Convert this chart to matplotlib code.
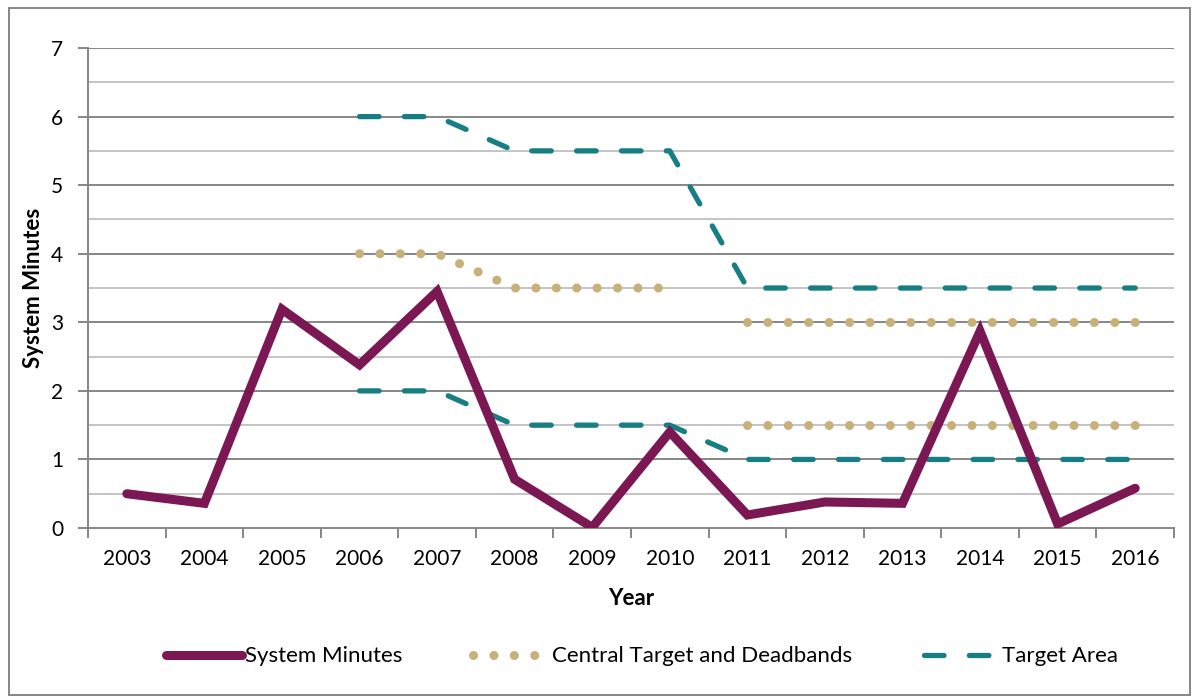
import numpy as np
import matplotlib.pyplot as plt
from matplotlib.patches import Rectangle

plt.rcParams['font.family'] = ['Lato', 'DejaVu Sans']

years = ['2003', '2004', '2005', '2006', '2007', '2008', '2009', '2010',
         '2011', '2012', '2013', '2014', '2015', '2016']
nan = np.nan
system_minutes = [0.50, 0.36, 3.19, 2.38, 3.45, 0.71, 0.01, 1.40,
                  0.19, 0.38, 0.36, 2.87, 0.06, 0.58]
central_target = [nan, nan, nan, 4.0, 4.0, 3.5, 3.5, 3.5,
                  nan, nan, nan, nan, nan, nan]
upper_deadband = [nan, nan, nan, nan, nan, nan, nan, nan,
                  3.0, 3.0, 3.0, 3.0, 3.0, 3.0]
lower_deadband = [nan, nan, nan, nan, nan, nan, nan, nan,
                  1.5, 1.5, 1.5, 1.5, 1.5, 1.5]
target_upper = [nan, nan, nan, 6.0, 6.0, 5.5, 5.5, 5.5,
                3.5, 3.5, 3.5, 3.5, 3.5, 3.5]
target_lower = [nan, nan, nan, 2.0, 2.0, 1.5, 1.5, 1.5,
                1.0, 1.0, 1.0, 1.0, 1.0, 1.0]

maroon = '#7B1752'
tan = '#C8B079'
teal = '#177E83'
grid_dark = '#868686'
grid_light = '#C4C4C4'

fig = plt.figure(figsize=(11.96, 6.99), dpi=100)
ax = fig.add_axes([0.0736, 0.2446, 0.9080, 0.6867])
x = np.arange(len(years))

# gridlines: integers darker, halves lighter
for v in np.arange(0.5, 7.01, 0.5):
    col = grid_dark if v == int(v) else grid_light
    ax.axhline(v, color=col, linewidth=1.4, zorder=0)

dot_style = dict(color=tan, linewidth=6.5, linestyle=(0, (0.01, 2.25)),
                 dash_capstyle='round')
dash_style = dict(color=teal, linewidth=3.8, linestyle=(0, (3.7, 4.8)),
                  dash_capstyle='round')

ax.plot(x, target_upper, zorder=3, **dash_style)
ax.plot(x, target_lower, zorder=3, **dash_style)
ax.plot(x, central_target, zorder=2, **dot_style)
ax.plot(x, upper_deadband, zorder=2, **dot_style)
ax.plot(x, lower_deadband, zorder=2, **dot_style)
ax.plot(x, system_minutes, color=maroon, linewidth=6.5, zorder=4,
        solid_capstyle='round', solid_joinstyle='miter')

ax.set_xlim(-0.5, len(years) - 0.5)
ax.set_ylim(0, 7)
ax.set_yticks(range(0, 8))
ax.set_xticks(np.arange(-0.5, len(years), 1.0))
ax.set_xticklabels([])
ax.set_xticks(x, minor=True)
ax.set_xticklabels(years, minor=True)
ax.tick_params(axis='x', which='major', length=7, color=grid_dark, width=1.4)
ax.tick_params(axis='x', which='minor', length=0, pad=15, labelsize=15)
ax.tick_params(axis='y', length=7, color=grid_dark, width=1.4, labelsize=15, pad=11)

for s in ['top', 'right']:
    ax.spines[s].set_visible(False)
for s in ['left', 'bottom']:
    ax.spines[s].set_color(grid_dark)
    ax.spines[s].set_linewidth(1.4)

ax.set_xlabel('Year', fontsize=16, fontweight='bold', labelpad=14)
ax.set_ylabel('System Minutes', fontsize=16, fontweight='bold', labelpad=5)

h1, = ax.plot([], [], color=maroon, linewidth=6.5, solid_capstyle='round')
h2, = ax.plot([], [], **dot_style)
h3, = ax.plot([], [], **dash_style)
fig.legend([h1, h2, h3], ['System Minutes', 'Central Target and Deadbands', 'Target Area'],
           loc='center', bbox_to_anchor=(0.537, 0.061), ncol=3, frameon=False,
           fontsize=16, handlelength=3.4, handletextpad=0.15, columnspacing=3.2)

# outer chart border
fig.patches.append(Rectangle((0.0075, 0.006), 0.9875, 0.982, transform=fig.transFigure,
                             fill=False, edgecolor=grid_dark, linewidth=1.4))

fig.savefig('out.png', dpi=100)
